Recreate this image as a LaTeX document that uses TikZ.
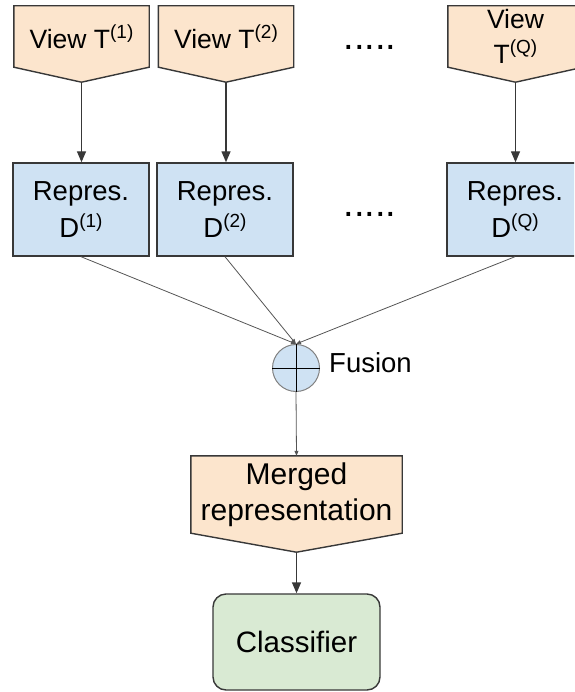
\documentclass[tikz,border=0pt]{standalone}
\usepackage{fontspec}
\setmainfont{Liberation Sans}
\usetikzlibrary{arrows.meta,calc,backgrounds}
\definecolor{orangefill}{HTML}{FCE5CD}
\definecolor{bluefill}{HTML}{CFE2F3}
\definecolor{greenfill}{HTML}{D9EAD3}
\definecolor{edgecol}{HTML}{383838}
\definecolor{thincol}{HTML}{555555}
\newcommand\supx[1]{\raisebox{10pt}{\fontsize{19}{19}\selectfont #1}}
\begin{document}
\begin{tikzpicture}[x=1pt,y=-1pt,
  txt/.style={font=\fontsize{27.5}{37}\selectfont, align=center, inner sep=0pt, text=black},
  viewnode/.style={txt, font=\fontsize{26.5}{35}\selectfont, minimum width=135pt, minimum height=61pt},
  viewshape/.style={draw=edgecol, line width=1.4pt, fill=orangefill, line join=miter},
  repbox/.style={txt, draw=edgecol, line width=1.4pt, fill=bluefill, minimum width=136pt, minimum height=93pt},
  dotsnode/.style={font=\fontsize{38}{38}\selectfont, inner sep=0pt, anchor=base},
  bigarrow/.style={draw=edgecol, line width=1.4pt, -{Triangle[length=11pt,width=9pt]}},
  thinarrow/.style={draw=thincol, line width=0.8pt, -{Triangle[length=5pt,width=4pt]}},
]
\clip (0,0) rectangle (574,692);

% view nodes
\node[viewnode] (t1) at (81.5,36.5) {View T\supx{(1)}};
\node[viewnode] (t2) at (226,36.5) {View T\supx{(2)}};
\node[viewnode] (tq) at (515.5,36.5) {View\\T\supx{(Q)}};
\begin{scope}[on background layer]
  \foreach \n in {t1,t2,tq}{
    \draw[viewshape] (\n.north west) -- (\n.north east) -- (\n.south east)
      -- ([yshift=-15pt]\n.south) -- (\n.south west) -- cycle;
  }
\end{scope}
\coordinate (t1tip) at ([yshift=-15pt]t1.south);
\coordinate (t2tip) at ([yshift=-15pt]t2.south);
\coordinate (tqtip) at ([yshift=-15pt]tq.south);

\node[dotsnode] (dots1) at (370,50) {.....};

% representation nodes
\node[repbox] (d1) at (81,209.5) {Repres.\\D\supx{(1)}};
\node[repbox] (d2) at (225,209.5) {Repres.\\D\supx{(2)}};
\node[repbox] (dq) at (515,209.5) {Repres.\\D\supx{(Q)}};
\node[dotsnode] (dots2) at (370,217) {.....};

\draw[bigarrow] (t1tip) -- (t1tip |- d1.north);
\draw[bigarrow] (t2tip) -- (t2tip |- d2.north);
\draw[bigarrow] (tqtip) -- (tqtip |- dq.north);

% fusion
\node[circle, draw=gray, line width=1pt, fill=bluefill, minimum size=47pt, inner sep=0pt] (fus) at (296,368) {};
\draw[black, line width=0.9pt] (fus.north) -- (fus.south) (fus.west) -- (fus.east);
\node[txt, anchor=west] (fl) at ([xshift=9pt,yshift=5pt]fus.east) {Fusion};

\draw[thinarrow] (d1.south) -- (fus.north);
\draw[thinarrow] (d2.south) -- (fus.north);
\draw[thinarrow] (dq.south) -- (fus.north);

% merged
\node[txt, font=\fontsize{30}{36}\selectfont, minimum width=211pt, minimum height=77pt] (m) at (296.5,494.5) {Merged\\representation};
\begin{scope}[on background layer]
  \draw[viewshape] (m.north west) -- (m.north east) -- (m.south east)
    -- ([yshift=-19pt]m.south) -- (m.south west) -- cycle;
\end{scope}
\coordinate (mtip) at ([yshift=-19pt]m.south);
\draw[thinarrow] (fus.south) -- (m.north);

% classifier
\node[txt, font=\fontsize{29.5}{36}\selectfont, draw=edgecol, line width=1.4pt, fill=greenfill, rounded corners=13pt,
      minimum width=167pt, minimum height=96pt] (c) at (296.5,642) {Classifier};
\draw[bigarrow] (mtip) -- (c.north);
\end{tikzpicture}
\end{document}
